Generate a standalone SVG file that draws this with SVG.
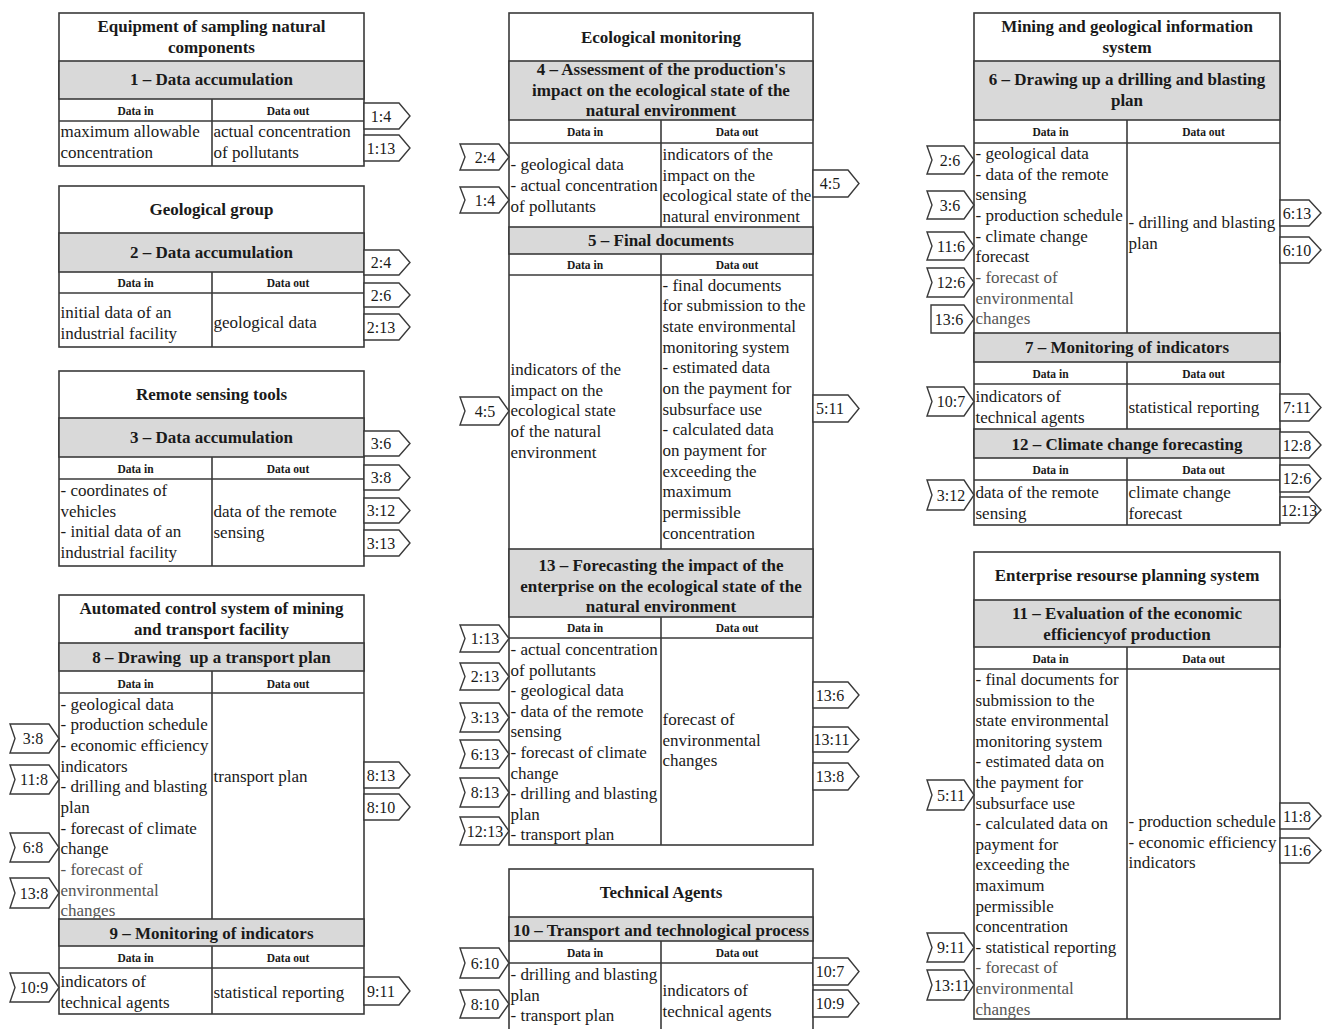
<svg xmlns="http://www.w3.org/2000/svg" width="1322" height="1029" viewBox="0 0 1322 1029">
<style>
.b{fill:#fff;stroke:#3a3a3a;stroke-width:1.6}
.g{fill:#d9d9d9;stroke:#3a3a3a;stroke-width:1.6}
.l{stroke:#3a3a3a;stroke-width:1.6;fill:none}
.t{font-family:"Liberation Serif","Times New Roman",serif;font-size:17px;fill:#1a1a1a}
.f{fill:#555}
.tb{font-family:"Liberation Serif","Times New Roman",serif;font-size:17px;font-weight:bold;fill:#1a1a1a;text-anchor:middle}
.h{font-family:"Liberation Serif","Times New Roman",serif;font-size:11.5px;font-weight:bold;fill:#1a1a1a;text-anchor:middle}
.tag{fill:#fff;stroke:#3a3a3a;stroke-width:1.4}
.tl{font-family:"Liberation Serif","Times New Roman",serif;font-size:16px;fill:#1a1a1a;text-anchor:middle}
</style>
<rect width="1322" height="1029" fill="#fff"/>

<!-- Box 1 -->
<g id="node-equipment">
<rect class="b" x="59" y="13" width="305" height="153"/>
<rect class="g" x="59" y="61" width="305" height="38"/>
<line class="l" x1="59" y1="121" x2="364" y2="121"/>
<line class="l" x1="212" y1="99" x2="212" y2="166"/>
<text class="tb" x="211.5" y="32">Equipment of sampling natural</text>
<text class="tb" x="211.5" y="53">components</text>
<text class="tb" x="211.5" y="85">1 – Data accumulation</text>
<text class="h" x="135.5" y="115">Data in</text>
<text class="h" x="288" y="115">Data out</text>
<text class="t" x="60.5" y="137">maximum allowable</text>
<text class="t" x="60.5" y="158">concentration</text>
<text class="t" x="213.5" y="137">actual concentration</text>
<text class="t" x="213.5" y="158">of pollutants</text>
</g>

<!-- Box 2 -->
<g id="node-geological">
<rect class="b" x="59" y="186" width="305" height="161"/>
<rect class="g" x="59" y="233" width="305" height="39"/>
<line class="l" x1="59" y1="293" x2="364" y2="293"/>
<line class="l" x1="212" y1="272" x2="212" y2="347"/>
<text class="tb" x="211.5" y="215">Geological group</text>
<text class="tb" x="211.5" y="258">2 – Data accumulation</text>
<text class="h" x="135.5" y="287">Data in</text>
<text class="h" x="288" y="287">Data out</text>
<text class="t" x="60.5" y="318">initial data of an</text>
<text class="t" x="60.5" y="339">industrial facility</text>
<text class="t" x="213.5" y="328">geological data</text>
</g>

<!-- Box 3 -->
<g id="node-remote">
<rect class="b" x="59" y="371" width="305" height="195"/>
<rect class="g" x="59" y="418" width="305" height="39"/>
<line class="l" x1="59" y1="479" x2="364" y2="479"/>
<line class="l" x1="212" y1="457" x2="212" y2="566"/>
<text class="tb" x="211.5" y="400">Remote sensing tools</text>
<text class="tb" x="211.5" y="443">3 – Data accumulation</text>
<text class="h" x="135.5" y="473">Data in</text>
<text class="h" x="288" y="473">Data out</text>
<text class="t" x="60.5" y="496">- coordinates of</text>
<text class="t" x="60.5" y="516.5">vehicles</text>
<text class="t" x="60.5" y="537">- initial data of an</text>
<text class="t" x="60.5" y="557.5">industrial facility</text>
<text class="t" x="213.5" y="517">data of the remote</text>
<text class="t" x="213.5" y="537.5">sensing</text>
</g>

<!-- ACS -->
<g id="node-acs">
<rect class="b" x="59" y="595" width="305" height="419"/>
<rect class="g" x="59" y="643" width="305" height="28"/>
<line class="l" x1="59" y1="693" x2="364" y2="693"/>
<line class="l" x1="212" y1="671" x2="212" y2="919"/>
<rect class="g" x="59" y="919" width="305" height="27"/>
<line class="l" x1="59" y1="968" x2="364" y2="968"/>
<line class="l" x1="212" y1="946" x2="212" y2="1014"/>
<text class="tb" x="211.5" y="614">Automated control system of mining</text>
<text class="tb" x="211.5" y="635">and transport facility</text>
<text class="tb" x="211.5" y="663">8 – Drawing&#160; up a transport plan</text>
<text class="h" x="135.5" y="688">Data in</text>
<text class="h" x="288" y="688">Data out</text>
<text class="t" x="60.5" y="709.5">- geological data</text>
<text class="t" x="60.5" y="730">- production schedule</text>
<text class="t" x="60.5" y="751">- economic efficiency</text>
<text class="t" x="60.5" y="771.5">indicators</text>
<text class="t" x="60.5" y="792">- drilling and blasting</text>
<text class="t" x="60.5" y="813">plan</text>
<text class="t" x="60.5" y="833.5">- forecast of climate</text>
<text class="t" x="60.5" y="854">change</text>
<text class="t f" x="60.5" y="875">- forecast of</text>
<text class="t f" x="60.5" y="895.5">environmental</text>
<text class="t f" x="60.5" y="916">changes</text>
<text class="t" x="213.5" y="782">transport plan</text>
<text class="tb" x="211.5" y="939">9 – Monitoring of indicators</text>
<text class="h" x="135.5" y="962">Data in</text>
<text class="h" x="288" y="962">Data out</text>
<text class="t" x="60.5" y="987">indicators of</text>
<text class="t" x="60.5" y="1008">technical agents</text>
<text class="t" x="213.5" y="998">statistical reporting</text>
</g>

<!-- Ecological monitoring -->
<g id="node-ecological">
<rect class="b" x="509" y="13" width="304" height="832"/>
<rect class="g" x="509" y="61" width="304" height="59"/>
<line class="l" x1="509" y1="143" x2="813" y2="143"/>
<line class="l" x1="661" y1="120" x2="661" y2="227"/>
<rect class="g" x="509" y="227" width="304" height="27"/>
<line class="l" x1="509" y1="275" x2="813" y2="275"/>
<line class="l" x1="661" y1="254" x2="661" y2="549"/>
<rect class="g" x="509" y="549" width="304" height="68"/>
<line class="l" x1="509" y1="638" x2="813" y2="638"/>
<line class="l" x1="661" y1="617" x2="661" y2="845"/>
<text class="tb" x="661" y="43">Ecological monitoring</text>
<text class="tb" x="661" y="75">4 – Assessment of the production's</text>
<text class="tb" x="661" y="95.5">impact on the ecological state of the</text>
<text class="tb" x="661" y="116">natural environment</text>
<text class="h" x="585" y="136">Data in</text>
<text class="h" x="737" y="136">Data out</text>
<text class="t" x="510.5" y="170">- geological data</text>
<text class="t" x="510.5" y="191">- actual concentration</text>
<text class="t" x="510.5" y="211.5">of pollutants</text>
<text class="t" x="662.5" y="160">indicators of the</text>
<text class="t" x="662.5" y="180.5">impact on the</text>
<text class="t" x="662.5" y="201">ecological state of the</text>
<text class="t" x="662.5" y="222">natural environment</text>
<text class="tb" x="661" y="246">5 – Final documents</text>
<text class="h" x="585" y="268.5">Data in</text>
<text class="h" x="737" y="268.5">Data out</text>
<text class="t" x="510.5" y="375">indicators of the</text>
<text class="t" x="510.5" y="395.5">impact on the</text>
<text class="t" x="510.5" y="416">ecological state</text>
<text class="t" x="510.5" y="437">of the natural</text>
<text class="t" x="510.5" y="457.5">environment</text>
<text class="t" x="662.5" y="290.5">- final documents</text>
<text class="t" x="662.5" y="311">for submission to the</text>
<text class="t" x="662.5" y="331.5">state environmental</text>
<text class="t" x="662.5" y="352.5">monitoring system</text>
<text class="t" x="662.5" y="373">- estimated data</text>
<text class="t" x="662.5" y="393.5">on the payment for</text>
<text class="t" x="662.5" y="414.5">subsurface use</text>
<text class="t" x="662.5" y="435">- calculated data</text>
<text class="t" x="662.5" y="455.5">on payment for</text>
<text class="t" x="662.5" y="476.5">exceeding the</text>
<text class="t" x="662.5" y="497">maximum</text>
<text class="t" x="662.5" y="517.5">permissible</text>
<text class="t" x="662.5" y="538.5">concentration</text>
<text class="tb" x="661" y="571">13 – Forecasting the impact of the</text>
<text class="tb" x="661" y="591.5">enterprise on the ecological state of the</text>
<text class="tb" x="661" y="612">natural environment</text>
<text class="h" x="585" y="632">Data in</text>
<text class="h" x="737" y="632">Data out</text>
<text class="t" x="510.5" y="655">- actual concentration</text>
<text class="t" x="510.5" y="675.5">of pollutants</text>
<text class="t" x="510.5" y="696">- geological data</text>
<text class="t" x="510.5" y="716.5">- data of the remote</text>
<text class="t" x="510.5" y="737">sensing</text>
<text class="t" x="510.5" y="758">- forecast of climate</text>
<text class="t" x="510.5" y="778.5">change</text>
<text class="t" x="510.5" y="799">- drilling and blasting</text>
<text class="t" x="510.5" y="819.5">plan</text>
<text class="t" x="510.5" y="840">- transport plan</text>
<text class="t" x="662.5" y="725">forecast of</text>
<text class="t" x="662.5" y="745.5">environmental</text>
<text class="t" x="662.5" y="766">changes</text>
</g>

<!-- Technical Agents -->
<g id="node-technical">
<rect class="b" x="509" y="869" width="304" height="172"/>
<rect class="g" x="509" y="917" width="304" height="24"/>
<line class="l" x1="509" y1="963" x2="813" y2="963"/>
<line class="l" x1="661" y1="941" x2="661" y2="1041"/>
<text class="tb" x="661" y="898">Technical Agents</text>
<text class="tb" x="661" y="935.5">10 – Transport and technological process</text>
<text class="h" x="585" y="957">Data in</text>
<text class="h" x="737" y="957">Data out</text>
<text class="t" x="510.5" y="980">- drilling and blasting</text>
<text class="t" x="510.5" y="1000.5">plan</text>
<text class="t" x="510.5" y="1021">- transport plan</text>
<text class="t" x="662.5" y="996">indicators of</text>
<text class="t" x="662.5" y="1017">technical agents</text>
</g>

<!-- Mining and geological information system -->
<g id="node-mining">
<rect class="b" x="974" y="13" width="306" height="512"/>
<rect class="g" x="974" y="61" width="306" height="59"/>
<line class="l" x1="974" y1="143" x2="1280" y2="143"/>
<line class="l" x1="1127" y1="120" x2="1127" y2="333"/>
<rect class="g" x="974" y="333" width="306" height="29"/>
<line class="l" x1="974" y1="384" x2="1280" y2="384"/>
<line class="l" x1="1127" y1="362" x2="1127" y2="429"/>
<rect class="g" x="974" y="429" width="306" height="29"/>
<line class="l" x1="974" y1="480" x2="1280" y2="480"/>
<line class="l" x1="1127" y1="458" x2="1127" y2="525"/>
<text class="tb" x="1127" y="32">Mining and geological information</text>
<text class="tb" x="1127" y="53">system</text>
<text class="tb" x="1127" y="85">6 – Drawing up a drilling and blasting</text>
<text class="tb" x="1127" y="106">plan</text>
<text class="h" x="1050.5" y="136">Data in</text>
<text class="h" x="1203.5" y="136">Data out</text>
<text class="t" x="975.5" y="159">- geological data</text>
<text class="t" x="975.5" y="179.5">- data of the remote</text>
<text class="t" x="975.5" y="200">sensing</text>
<text class="t" x="975.5" y="221">- production schedule</text>
<text class="t" x="975.5" y="241.5">- climate change</text>
<text class="t" x="975.5" y="262">forecast</text>
<text class="t f" x="975.5" y="283">- forecast of</text>
<text class="t f" x="975.5" y="303.5">environmental</text>
<text class="t f" x="975.5" y="324">changes</text>
<text class="t" x="1128.5" y="228">- drilling and blasting</text>
<text class="t" x="1128.5" y="249">plan</text>
<text class="tb" x="1127" y="353">7 – Monitoring of indicators</text>
<text class="h" x="1050.5" y="377.5">Data in</text>
<text class="h" x="1203.5" y="377.5">Data out</text>
<text class="t" x="975.5" y="402">indicators of</text>
<text class="t" x="975.5" y="423">technical agents</text>
<text class="t" x="1128.5" y="413">statistical reporting</text>
<text class="tb" x="1127" y="449.5">12 – Climate change forecasting</text>
<text class="h" x="1050.5" y="473.5">Data in</text>
<text class="h" x="1203.5" y="473.5">Data out</text>
<text class="t" x="975.5" y="498">data of the remote</text>
<text class="t" x="975.5" y="518.5">sensing</text>
<text class="t" x="1128.5" y="498">climate change</text>
<text class="t" x="1128.5" y="518.5">forecast</text>
</g>

<!-- ERP -->
<g id="node-erp">
<rect class="b" x="974" y="552" width="306" height="467"/>
<rect class="g" x="974" y="600" width="306" height="47"/>
<line class="l" x1="974" y1="669" x2="1280" y2="669"/>
<line class="l" x1="1127" y1="647" x2="1127" y2="1019"/>
<text class="tb" x="1127" y="581">Enterprise resourse planning system</text>
<text class="tb" x="1127" y="618.5">11 – Evaluation of the economic</text>
<text class="tb" x="1127" y="639.5">efficiencyof production</text>
<text class="h" x="1050.5" y="663">Data in</text>
<text class="h" x="1203.5" y="663">Data out</text>
<text class="t" x="975.5" y="685">- final documents for</text>
<text class="t" x="975.5" y="705.6">submission to the</text>
<text class="t" x="975.5" y="726.2">state environmental</text>
<text class="t" x="975.5" y="746.8">monitoring system</text>
<text class="t" x="975.5" y="767.4">- estimated data on</text>
<text class="t" x="975.5" y="788">the payment for</text>
<text class="t" x="975.5" y="808.6">subsurface use</text>
<text class="t" x="975.5" y="829.2">- calculated data on</text>
<text class="t" x="975.5" y="849.8">payment for</text>
<text class="t" x="975.5" y="870.4">exceeding the</text>
<text class="t" x="975.5" y="891">maximum</text>
<text class="t" x="975.5" y="911.6">permissible</text>
<text class="t" x="975.5" y="932.2">concentration</text>
<text class="t" x="975.5" y="952.8">- statistical reporting</text>
<text class="t f" x="975.5" y="973.4">- forecast of</text>
<text class="t f" x="975.5" y="994">environmental</text>
<text class="t f" x="975.5" y="1014.6">changes</text>
<text class="t" x="1128.5" y="827">- production schedule</text>
<text class="t" x="1128.5" y="847.5">- economic efficiency</text>
<text class="t" x="1128.5" y="868">indicators</text>
</g>

<!-- Connectors (off-page link tags) -->
<g id="connectors">
<!-- column 1 outputs -->
<g><polygon class="tag" points="364,103 399,103 410,116 399,129 364,129"/><text class="tl" x="381" y="121.5">1:4</text></g>
<g><polygon class="tag" points="364,135 399,135 410,148 399,161 364,161"/><text class="tl" x="381" y="153.5">1:13</text></g>
<g><polygon class="tag" points="364,250 399,250 410,262.5 399,275 364,275"/><text class="tl" x="381" y="268">2:4</text></g>
<g><polygon class="tag" points="364,283 399,283 410,295 399,307 364,307"/><text class="tl" x="381" y="300.5">2:6</text></g>
<g><polygon class="tag" points="364,314 399,314 410,327 399,340 364,340"/><text class="tl" x="381" y="332.5">2:13</text></g>
<g><polygon class="tag" points="364,431 399,431 410,443.5 399,456 364,456"/><text class="tl" x="381" y="449">3:6</text></g>
<g><polygon class="tag" points="364,465 399,465 410,477.5 399,490 364,490"/><text class="tl" x="381" y="483">3:8</text></g>
<g><polygon class="tag" points="364,498 399,498 410,510.5 399,523 364,523"/><text class="tl" x="381" y="516">3:12</text></g>
<g><polygon class="tag" points="364,530 399,530 410,543 399,556 364,556"/><text class="tl" x="381" y="548.5">3:13</text></g>
<g><polygon class="tag" points="364,762 399,762 410,775 399,788 364,788"/><text class="tl" x="381" y="780.5">8:13</text></g>
<g><polygon class="tag" points="364,794 399,794 410,807 399,820 364,820"/><text class="tl" x="381" y="812.5">8:10</text></g>
<g><polygon class="tag" points="364,977 399,977 410,991 399,1005 364,1005"/><text class="tl" x="381" y="996.5">9:11</text></g>
<!-- column 1 inputs -->
<g><polygon class="tag" points="10,724 49,724 59,738.5 49,753 10,753 15,738.5"/><text class="tl" x="33" y="744">3:8</text></g>
<g><polygon class="tag" points="10,765 49,765 59,779.5 49,794 10,794 15,779.5"/><text class="tl" x="34" y="785">11:8</text></g>
<g><polygon class="tag" points="10,833 49,833 59,847.5 49,862 10,862 15,847.5"/><text class="tl" x="33" y="853">6:8</text></g>
<g><polygon class="tag" points="10,878 49,878 59,893 49,908 10,908 15,893"/><text class="tl" x="34" y="898.5">13:8</text></g>
<g><polygon class="tag" points="10,973 49,973 59,987.5 49,1002 10,1002 15,987.5"/><text class="tl" x="34" y="993">10:9</text></g>
<!-- column 2 inputs -->
<g><polygon class="tag" points="460,144 499,144 509,157 499,170 460,170 465,157"/><text class="tl" x="485" y="162.5">2:4</text></g>
<g><polygon class="tag" points="460,187 499,187 509,200 499,213 460,213 465,200"/><text class="tl" x="485" y="205.5">1:4</text></g>
<g><polygon class="tag" points="460,397 499,397 509,411 499,425 460,425 465,411"/><text class="tl" x="485" y="416.5">4:5</text></g>
<g><polygon class="tag" points="460,625 499,625 509,638.5 499,652 460,652 465,638.5"/><text class="tl" x="485" y="644">1:13</text></g>
<g><polygon class="tag" points="460,663 499,663 509,676.5 499,690 460,690 465,676.5"/><text class="tl" x="485" y="682">2:13</text></g>
<g><polygon class="tag" points="460,703 499,703 509,717.5 499,732 460,732 465,717.5"/><text class="tl" x="485" y="723">3:13</text></g>
<g><polygon class="tag" points="460,740 499,740 509,754 499,768 460,768 465,754"/><text class="tl" x="485" y="759.5">6:13</text></g>
<g><polygon class="tag" points="460,778 499,778 509,792.5 499,807 460,807 465,792.5"/><text class="tl" x="485" y="798">8:13</text></g>
<g><polygon class="tag" points="460,817 499,817 509,831 499,845 460,845 465,831"/><text class="tl" x="485" y="836.5">12:13</text></g>
<g><polygon class="tag" points="460,948 499,948 509,963 499,978 460,978 465,963"/><text class="tl" x="485" y="968.5">6:10</text></g>
<g><polygon class="tag" points="460,990 499,990 509,1004 499,1018 460,1018 465,1004"/><text class="tl" x="485" y="1009.5">8:10</text></g>
<!-- column 2 outputs -->
<g><polygon class="tag" points="813,170 848,170 859,183.5 848,197 813,197"/><text class="tl" x="830" y="189">4:5</text></g>
<g><polygon class="tag" points="813,395 848,395 859,408.5 848,422 813,422"/><text class="tl" x="830" y="414">5:11</text></g>
<g><polygon class="tag" points="813,682 848,682 859,695 848,708 813,708"/><text class="tl" x="830" y="700.5">13:6</text></g>
<g><polygon class="tag" points="813,727 848,727 859,739.5 848,752 813,752"/><text class="tl" x="831.5" y="745">13:11</text></g>
<g><polygon class="tag" points="813,763 848,763 859,776.5 848,790 813,790"/><text class="tl" x="830" y="782">13:8</text></g>
<g><polygon class="tag" points="813,958 848,958 859,971.5 848,985 813,985"/><text class="tl" x="830" y="977">10:7</text></g>
<g><polygon class="tag" points="813,990 848,990 859,1003.5 848,1017 813,1017"/><text class="tl" x="830" y="1009">10:9</text></g>
<!-- column 3 inputs -->
<g><polygon class="tag" points="927,146 964,146 974,160 964,174 927,174 932,160"/><text class="tl" x="950" y="165.5">2:6</text></g>
<g><polygon class="tag" points="927,191 964,191 974,205 964,219 927,219 932,205"/><text class="tl" x="950" y="210.5">3:6</text></g>
<g><polygon class="tag" points="927,232 964,232 974,246 964,260 927,260 932,246"/><text class="tl" x="951" y="251.5">11:6</text></g>
<g><polygon class="tag" points="927,268 964,268 974,282.5 964,297 927,297 932,282.5"/><text class="tl" x="951" y="288">12:6</text></g>
<g><polygon class="tag" points="931,305 964,305 974,319 964,333 931,333"/><text class="tl" x="949" y="324.5">13:6</text></g>
<g><polygon class="tag" points="927,387 964,387 974,401.5 964,416 927,416 932,401.5"/><text class="tl" x="951" y="407">10:7</text></g>
<g><polygon class="tag" points="927,480 964,480 974,495 964,510 927,510 932,495"/><text class="tl" x="951" y="500.5">3:12</text></g>
<g><polygon class="tag" points="927,780 964,780 974,795 964,810 927,810 932,795"/><text class="tl" x="951" y="800.5">5:11</text></g>
<g><polygon class="tag" points="927,933 964,933 974,947.5 964,962 927,962 932,947.5"/><text class="tl" x="951" y="953">9:11</text></g>
<g><polygon class="tag" points="927,970 964,970 974,985 964,1000 927,1000 932,985"/><text class="tl" x="952" y="990.5">13:11</text></g>
<!-- column 3 outputs -->
<g><polygon class="tag" points="1280,200 1309,200 1321,213 1309,226 1280,226"/><text class="tl" x="1297" y="218.5">6:13</text></g>
<g><polygon class="tag" points="1280,237 1309,237 1321,250 1309,263 1280,263"/><text class="tl" x="1297" y="255.5">6:10</text></g>
<g><polygon class="tag" points="1280,394 1309,394 1321,407.5 1309,421 1280,421"/><text class="tl" x="1297" y="413">7:11</text></g>
<g><polygon class="tag" points="1280,432 1309,432 1321,445 1309,458 1280,458"/><text class="tl" x="1297" y="450.5">12:8</text></g>
<g><polygon class="tag" points="1280,465 1309,465 1321,478.5 1309,492 1280,492"/><text class="tl" x="1297" y="484">12:6</text></g>
<g><polygon class="tag" points="1280,497 1309,497 1321,510 1309,523 1280,523"/><text class="tl" x="1299" y="515.5">12:13</text></g>
<g><polygon class="tag" points="1280,803 1309,803 1321,816 1309,829 1280,829"/><text class="tl" x="1297" y="821.5">11:8</text></g>
<g><polygon class="tag" points="1280,838 1309,838 1321,850.5 1309,863 1280,863"/><text class="tl" x="1297" y="856">11:6</text></g>
</g>
</svg>
